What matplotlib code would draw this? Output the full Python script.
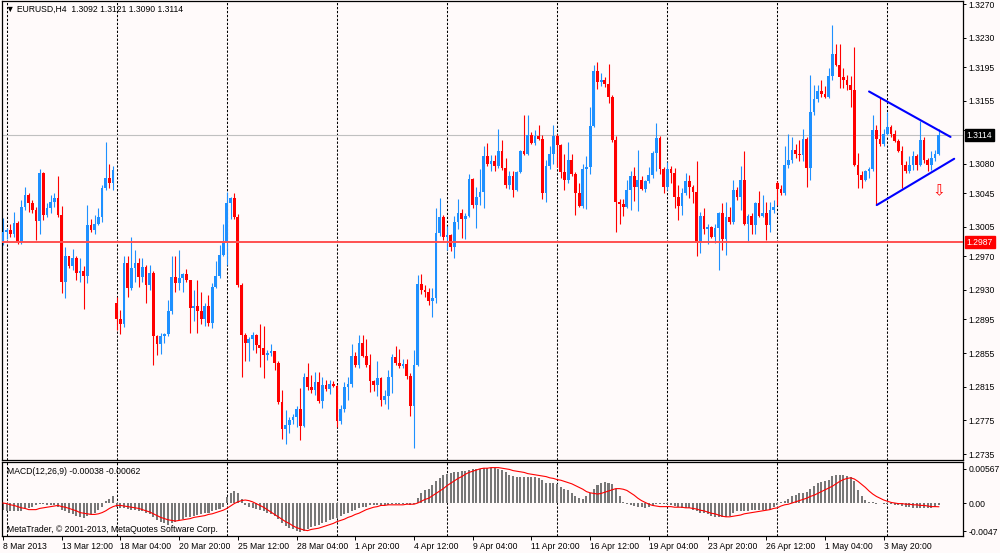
import matplotlib.pyplot as plt
import numpy as np

# EURUSD H4 candles, bar 0 = 8 Mar 2013 20:00
opens = [1.2986, 1.2999, 1.3001, 1.2997, 1.3010, 1.2987, 1.3029, 1.3043, 1.3033, 1.3025,
         1.3012, 1.3069, 1.3019, 1.3027, 1.3035, 1.3039, 1.3019, 1.2940, 1.2970, 1.2958,
         1.2968, 1.2950, 1.2952, 1.2947, 1.3007, 1.3001, 1.3009, 1.3017, 1.3051, 1.3063,
         1.3057, 1.2914, 1.2896, 1.2890, 1.2962, 1.2932, 1.2956, 1.2962, 1.2945, 1.2957,
         1.2936, 1.2950, 1.2875, 1.2866, 1.2875, 1.2878, 1.2905, 1.2945, 1.2938, 1.2944,
         1.2949, 1.2942, 1.2909, 1.2911, 1.2905, 1.2895, 1.2911, 1.2891, 1.2933, 1.2947,
         1.2972, 1.2986, 1.3033, 1.3039, 1.3017, 1.2936, 1.2877, 1.2867, 1.2872, 1.2876,
         1.2865, 1.2861, 1.2853, 1.2855, 1.2857, 1.2843, 1.2797, 1.2765, 1.2769, 1.2775,
         1.2779, 1.2789, 1.2768, 1.2827, 1.2815, 1.2811, 1.2821, 1.2798, 1.2817, 1.2812,
         1.2818, 1.2816, 1.2774, 1.2789, 1.2815, 1.2818, 1.2852, 1.2841, 1.2867, 1.2852,
         1.2841, 1.2822, 1.2817, 1.2825, 1.2799, 1.2804, 1.2827, 1.2850, 1.2843, 1.2840,
         1.2842, 1.2828, 1.2792, 1.2841, 1.2937, 1.2930, 1.2928, 1.2917, 1.2920, 1.2998,
         1.3017, 1.2993, 1.2995, 1.2981, 1.3011, 1.3021, 1.3015, 1.3018, 1.3062, 1.3031,
         1.3040, 1.3047, 1.3089, 1.3080, 1.3083, 1.3077, 1.3095, 1.3075, 1.3055, 1.3066,
         1.3049, 1.3070, 1.3095, 1.3092, 1.3114, 1.3105, 1.3113, 1.3110, 1.3045, 1.3078,
         1.3092, 1.3113, 1.3102, 1.3070, 1.3061, 1.3084, 1.3068, 1.3045, 1.3030, 1.3074,
         1.3076, 1.3125, 1.3190, 1.3177, 1.3180, 1.3175, 1.3160, 1.3108, 1.3035, 1.3032,
         1.3029, 1.3049, 1.3066, 1.3053, 1.3061, 1.3050, 1.3059, 1.3067, 1.3093, 1.3111,
         1.3074, 1.3052, 1.3074, 1.3069, 1.3040, 1.3030, 1.3045, 1.3060, 1.3053, 1.3047,
         1.2986, 1.3018, 1.3002, 1.3005, 1.2993, 1.3004, 1.3022, 1.2991, 1.3017, 1.3011,
         1.3049, 1.3041, 1.3061, 1.3009, 1.3018, 1.3007, 1.3033, 1.3018, 1.3022, 1.3007,
         1.3025, 1.3057, 1.3050, 1.3045, 1.3079, 1.3085, 1.3096, 1.3092, 1.3090, 1.3109,
         1.3075, 1.3142, 1.3157, 1.3167, 1.3163, 1.3160, 1.3184, 1.3211, 1.3198, 1.3183,
         1.3180, 1.3174, 1.3168, 1.3079, 1.3067, 1.3061, 1.3072, 1.3074, 1.3120, 1.3110,
         1.3103, 1.3116, 1.3124, 1.3116, 1.3107, 1.3095, 1.3079, 1.3071, 1.3079, 1.3089,
         1.3079, 1.3108, 1.3085, 1.3079, 1.3087, 1.3092]
highs = [1.3016, 1.3004, 1.3008, 1.3023, 1.3012, 1.3037, 1.3053, 1.3045, 1.3037, 1.3029,
         1.3074, 1.3070, 1.3033, 1.3043, 1.3045, 1.3065, 1.3030, 1.2981, 1.2971, 1.2979,
         1.2970, 1.2968, 1.2958, 1.3031, 1.3014, 1.3019, 1.3027, 1.3055, 1.3106, 1.3080,
         1.3078, 1.2922, 1.2906, 1.2970, 1.2971, 1.2993, 1.2978, 1.2968, 1.2968, 1.2960,
         1.2960, 1.2952, 1.2877, 1.2879, 1.2879, 1.2918, 1.2971, 1.2970, 1.2978, 1.2950,
         1.2955, 1.2942, 1.2930, 1.2942, 1.2928, 1.2914, 1.2924, 1.2938, 1.2964, 1.2984,
         1.3008, 1.3047, 1.3041, 1.3045, 1.3020, 1.2938, 1.2879, 1.2874, 1.2880, 1.2878,
         1.2889, 1.2887, 1.2859, 1.2866, 1.2858, 1.2845, 1.2811, 1.2787, 1.2779, 1.2783,
         1.2792, 1.2813, 1.2831, 1.2843, 1.2829, 1.2833, 1.2833, 1.2826, 1.2823, 1.2823,
         1.2822, 1.2817, 1.2793, 1.2821, 1.2827, 1.2866, 1.2856, 1.2876, 1.2876, 1.2872,
         1.2854, 1.2823, 1.2845, 1.2827, 1.2811, 1.2835, 1.2854, 1.2863, 1.2860, 1.2848,
         1.2848, 1.2831, 1.2859, 1.2948, 1.2949, 1.2936, 1.2932, 1.2932, 1.3028, 1.3039,
         1.3019, 1.3006, 1.2996, 1.3018, 1.3038, 1.3026, 1.3021, 1.3068, 1.3063, 1.3052,
         1.3074, 1.3101, 1.3105, 1.3091, 1.3091, 1.3122, 1.3108, 1.3087, 1.3072, 1.3071,
         1.3072, 1.3097, 1.3138, 1.3138, 1.3118, 1.3120, 1.3126, 1.3114, 1.3084, 1.3101,
         1.3126, 1.3116, 1.3104, 1.3092, 1.3106, 1.3092, 1.3070, 1.3057, 1.3080, 1.3089,
         1.3147, 1.3198, 1.3201, 1.3188, 1.3183, 1.3199, 1.3162, 1.3113, 1.3038, 1.3038,
         1.3061, 1.3072, 1.3076, 1.3096, 1.3065, 1.3061, 1.3076, 1.3095, 1.3129, 1.3113,
         1.3076, 1.3082, 1.3077, 1.3075, 1.3055, 1.3051, 1.3069, 1.3067, 1.3055, 1.3083,
         1.3023, 1.3028, 1.3008, 1.3006, 1.3009, 1.3023, 1.3033, 1.3035, 1.3029, 1.3061,
         1.3053, 1.3077, 1.3095, 1.3020, 1.3021, 1.3035, 1.3048, 1.3043, 1.3035, 1.3035,
         1.3037, 1.3059, 1.3055, 1.3101, 1.3116, 1.3112, 1.3103, 1.3108, 1.3121, 1.3112,
         1.3186, 1.3174, 1.3174, 1.3180, 1.3172, 1.3194, 1.3245, 1.3223, 1.3223, 1.3194,
         1.3186, 1.3184, 1.3219, 1.3093, 1.3071, 1.3073, 1.3076, 1.3138, 1.3126, 1.3160,
         1.3122, 1.3142, 1.3126, 1.3120, 1.3110, 1.3101, 1.3083, 1.3089, 1.3095, 1.3092,
         1.3131, 1.3112, 1.3087, 1.3095, 1.3097, 1.3121]
lows = [1.2983, 1.2991, 1.2993, 1.2993, 1.2985, 1.2985, 1.3025, 1.3023, 1.3021, 1.2989,
        1.2997, 1.3013, 1.3017, 1.3021, 1.3029, 1.3017, 1.2927, 1.2920, 1.2956, 1.2954,
        1.2942, 1.2940, 1.2908, 1.2938, 1.2999, 1.2997, 1.3007, 1.3011, 1.3049, 1.3051,
        1.3049, 1.2882, 1.2878, 1.2886, 1.2922, 1.2930, 1.2940, 1.2934, 1.2940, 1.2914,
        1.2930, 1.2841, 1.2853, 1.2854, 1.2867, 1.2875, 1.2901, 1.2928, 1.2930, 1.2928,
        1.2940, 1.2879, 1.2893, 1.2879, 1.2889, 1.2887, 1.2887, 1.2885, 1.2932, 1.2944,
        1.2970, 1.2960, 1.3015, 1.3015, 1.2934, 1.2827, 1.2845, 1.2845, 1.2859, 1.2855,
        1.2839, 1.2825, 1.2847, 1.2852, 1.2835, 1.2795, 1.2753, 1.2747, 1.2760, 1.2771,
        1.2767, 1.2752, 1.2767, 1.2811, 1.2808, 1.2805, 1.2796, 1.2790, 1.2810, 1.2806,
        1.2815, 1.2767, 1.2771, 1.2785, 1.2799, 1.2815, 1.2839, 1.2837, 1.2850, 1.2839,
        1.2809, 1.2810, 1.2804, 1.2792, 1.2795, 1.2788, 1.2807, 1.2841, 1.2837, 1.2837,
        1.2824, 1.2780, 1.2742, 1.2840, 1.2925, 1.2922, 1.2912, 1.2898, 1.2914, 1.2994,
        1.2990, 1.2978, 1.2976, 1.2968, 1.3002, 1.2992, 1.2991, 1.3017, 1.3027, 1.3004,
        1.3031, 1.3027, 1.3078, 1.3072, 1.3071, 1.3075, 1.3073, 1.3051, 1.3050, 1.3041,
        1.3048, 1.3069, 1.3091, 1.3090, 1.3104, 1.3102, 1.3108, 1.3038, 1.3035, 1.3074,
        1.3080, 1.3076, 1.3063, 1.3049, 1.3057, 1.3065, 1.3019, 1.3029, 1.3028, 1.3026,
        1.3068, 1.3124, 1.3169, 1.3172, 1.3171, 1.3152, 1.3106, 1.2999, 1.3009, 1.3018,
        1.3027, 1.3025, 1.3036, 1.3024, 1.3049, 1.3046, 1.3057, 1.3063, 1.3072, 1.3068,
        1.3045, 1.3049, 1.3057, 1.3027, 1.3013, 1.3019, 1.3043, 1.3039, 1.3033, 1.2970,
        1.2974, 1.2997, 1.2985, 1.2992, 1.2986, 1.2954, 1.2978, 1.2972, 1.3009, 1.3008,
        1.3037, 1.3025, 1.3007, 1.2987, 1.2996, 1.2996, 1.3017, 1.3017, 1.2990, 1.2999,
        1.3021, 1.3031, 1.3043, 1.3043, 1.3075, 1.3081, 1.3087, 1.3083, 1.3083, 1.3052,
        1.3061, 1.3138, 1.3154, 1.3159, 1.3158, 1.3158, 1.3180, 1.3196, 1.3170, 1.3170,
        1.3168, 1.3148, 1.3077, 1.3051, 1.3051, 1.3059, 1.3063, 1.3071, 1.3031, 1.3101,
        1.3101, 1.3114, 1.3112, 1.3106, 1.3094, 1.3051, 1.3069, 1.3069, 1.3073, 1.3073,
        1.3077, 1.3081, 1.3071, 1.3073, 1.3083, 1.3090]
closes = [1.2999, 1.3001, 1.2997, 1.3010, 1.2987, 1.3029, 1.3043, 1.3033, 1.3025, 1.3012,
          1.3069, 1.3019, 1.3027, 1.3035, 1.3039, 1.3019, 1.2940, 1.2970, 1.2958, 1.2968,
          1.2950, 1.2952, 1.2947, 1.3007, 1.3001, 1.3009, 1.3017, 1.3051, 1.3063, 1.3057,
          1.3073, 1.2896, 1.2890, 1.2962, 1.2932, 1.2956, 1.2962, 1.2945, 1.2957, 1.2936,
          1.2950, 1.2875, 1.2866, 1.2875, 1.2878, 1.2905, 1.2945, 1.2938, 1.2944, 1.2949,
          1.2942, 1.2909, 1.2911, 1.2905, 1.2895, 1.2911, 1.2891, 1.2933, 1.2947, 1.2972,
          1.2986, 1.3033, 1.3039, 1.3017, 1.2936, 1.2877, 1.2867, 1.2872, 1.2876, 1.2865,
          1.2861, 1.2853, 1.2855, 1.2857, 1.2843, 1.2797, 1.2765, 1.2769, 1.2775, 1.2779,
          1.2789, 1.2768, 1.2827, 1.2815, 1.2811, 1.2821, 1.2798, 1.2817, 1.2812, 1.2818,
          1.2816, 1.2774, 1.2789, 1.2815, 1.2818, 1.2852, 1.2841, 1.2867, 1.2852, 1.2841,
          1.2822, 1.2817, 1.2825, 1.2799, 1.2804, 1.2827, 1.2850, 1.2843, 1.2840, 1.2842,
          1.2828, 1.2792, 1.2841, 1.2937, 1.2930, 1.2928, 1.2917, 1.2920, 1.2998, 1.3017,
          1.2993, 1.2995, 1.2981, 1.3011, 1.3021, 1.3015, 1.3018, 1.3062, 1.3031, 1.3040,
          1.3047, 1.3089, 1.3080, 1.3083, 1.3077, 1.3095, 1.3075, 1.3055, 1.3066, 1.3049,
          1.3070, 1.3095, 1.3092, 1.3114, 1.3105, 1.3113, 1.3110, 1.3045, 1.3078, 1.3092,
          1.3113, 1.3102, 1.3070, 1.3061, 1.3084, 1.3068, 1.3045, 1.3030, 1.3074, 1.3076,
          1.3125, 1.3190, 1.3177, 1.3180, 1.3175, 1.3160, 1.3108, 1.3035, 1.3032, 1.3029,
          1.3049, 1.3066, 1.3053, 1.3061, 1.3050, 1.3059, 1.3067, 1.3093, 1.3111, 1.3074,
          1.3052, 1.3074, 1.3069, 1.3040, 1.3030, 1.3045, 1.3060, 1.3053, 1.3047, 1.2986,
          1.3018, 1.3002, 1.3005, 1.2993, 1.3004, 1.3022, 1.2991, 1.3017, 1.3011, 1.3049,
          1.3041, 1.3061, 1.3009, 1.3018, 1.3007, 1.3033, 1.3018, 1.3022, 1.3007, 1.3025,
          1.3029, 1.3050, 1.3045, 1.3079, 1.3085, 1.3096, 1.3092, 1.3090, 1.3109, 1.3075,
          1.3142, 1.3157, 1.3167, 1.3163, 1.3160, 1.3184, 1.3211, 1.3198, 1.3183, 1.3180,
          1.3174, 1.3168, 1.3079, 1.3067, 1.3061, 1.3072, 1.3074, 1.3120, 1.3110, 1.3103,
          1.3116, 1.3124, 1.3116, 1.3107, 1.3095, 1.3079, 1.3071, 1.3079, 1.3089, 1.3079,
          1.3108, 1.3085, 1.3079, 1.3087, 1.3092, 1.3114]

# MACD(12,26,9) histogram and signal
macd_hist = [-0.0012, -0.0014, -0.0014, -0.0014, -0.0014, -0.0013, -0.0010, -0.0008, -0.0006, -0.0003,
             -0.0002, -0.0002, -0.0003, -0.0003, -0.0003, -0.0006, -0.0011, -0.0014, -0.0017, -0.0019,
             -0.0021, -0.0023, -0.0025, -0.0022, -0.0019, -0.0016, -0.0011, -0.0006, 0.0004, 0.0007,
             0.0011, -0.0007, -0.0009, -0.0008, -0.0010, -0.0011, -0.0012, -0.0013, -0.0014, -0.0016,
             -0.0018, -0.0023, -0.0029, -0.0032, -0.0034, -0.0036, -0.0034, -0.0032, -0.0029, -0.0027,
             -0.0024, -0.0023, -0.0021, -0.0020, -0.0018, -0.0017, -0.0016, -0.0014, -0.0012, -0.0010,
             -0.0006, 0.0010, 0.0017, 0.0020, 0.0017, 0.0006, -0.0003, -0.0006, -0.0008, -0.0010,
             -0.0012, -0.0014, -0.0017, -0.0018, -0.0021, -0.0027, -0.0033, -0.0038, -0.0042, -0.0044,
             -0.0047, -0.0048, -0.0047, -0.0043, -0.0040, -0.0038, -0.0036, -0.0033, -0.0031, -0.0029,
             -0.0027, -0.0025, -0.0022, -0.0019, -0.0017, -0.0013, -0.0011, -0.0008, -0.0007, -0.0006,
             -0.0004, -0.0004, -0.0003, -0.0003, -0.0004, -0.0003, -0.0002, -0.0001, -0.0001, -0.0002,
             -0.0002, -0.0004, -0.0002, 0.0008, 0.0017, 0.0021, 0.0024, 0.0030, 0.0036, 0.0042,
             0.0046, 0.0048, 0.0050, 0.0051, 0.0052, 0.0053, 0.0054, 0.0055, 0.0056, 0.0057,
             0.0057, 0.0058, 0.0058, 0.0058, 0.0058, 0.0057, 0.0055, 0.0051, 0.0047, 0.0045,
             0.0044, 0.0044, 0.0044, 0.0044, 0.0043, 0.0043, 0.0042, 0.0039, 0.0034, 0.0033,
             0.0033, 0.0032, 0.0027, 0.0023, 0.0021, 0.0016, 0.0012, 0.0008, 0.0007, 0.0011,
             0.0017, 0.0024, 0.0030, 0.0034, 0.0035, 0.0034, 0.0031, 0.0023, 0.0011, 0.0002,
             -0.0002, -0.0003, -0.0005, -0.0006, -0.0007, -0.0008, -0.0006, -0.0003, -0.0002, -0.0002,
             -0.0002, -0.0002, -0.0003, -0.0005, -0.0007, -0.0009, -0.0009, -0.0009, -0.0011, -0.0013,
             -0.0016, -0.0017, -0.0019, -0.0021, -0.0023, -0.0024, -0.0024, -0.0023, -0.0021, -0.0017,
             -0.0014, -0.0013, -0.0013, -0.0013, -0.0012, -0.0012, -0.0012, -0.0012, -0.0011, -0.0011,
             -0.0007, -0.0003, 0.0001, 0.0004, 0.0007, 0.0011, 0.0014, 0.0016, 0.0017, 0.0019,
             0.0023, 0.0028, 0.0033, 0.0035, 0.0037, 0.0039, 0.0045, 0.0047, 0.0047, 0.0046,
             0.0045, 0.0043, 0.0036, 0.0022, 0.0011, 0.0005, 0.0002, 0.0001, -0.0001, 0.0000,
             -0.0001, -0.0001, -0.0002, -0.0003, -0.0004, -0.0005, -0.0006, -0.0007, -0.0008, -0.0009,
             -0.0009, -0.0009, -0.0009, -0.0009, -0.0007, -0.00038]
macd_signal = [0.0000, -0.0001, -0.0003, -0.0004, -0.0006, -0.0008, -0.0009, -0.0011, -0.0011, -0.0011,
               -0.0009, -0.0008, -0.0007, -0.0006, -0.0005, -0.0004, -0.0006, -0.0007, -0.0009, -0.0011,
               -0.0013, -0.0016, -0.0017, -0.0018, -0.0019, -0.0019, -0.0018, -0.0016, -0.0013, -0.0009,
               -0.0006, -0.0004, -0.0004, -0.0005, -0.0006, -0.0007, -0.0008, -0.0009, -0.0011, -0.0013,
               -0.0015, -0.0018, -0.0021, -0.0024, -0.0026, -0.0028, -0.0029, -0.0030, -0.0029, -0.0028,
               -0.0027, -0.0026, -0.0024, -0.0023, -0.0022, -0.0021, -0.0019, -0.0018, -0.0016, -0.0014,
               -0.0012, -0.0009, -0.0005, -0.0001, 0.0002, 0.0004, 0.0005, 0.0004, 0.0002, -0.0001,
               -0.0004, -0.0007, -0.0011, -0.0015, -0.0019, -0.0023, -0.0027, -0.0031, -0.0034, -0.0038,
               -0.0041, -0.0043, -0.0045, -0.0046, -0.0044, -0.0043, -0.0042, -0.0040, -0.0038, -0.0036,
               -0.0034, -0.0031, -0.0029, -0.0027, -0.0024, -0.0022, -0.0019, -0.0017, -0.0014, -0.0011,
               -0.0009, -0.0007, -0.0006, -0.0004, -0.0004, -0.0003, -0.0003, -0.0003, -0.0003, -0.0003,
               -0.0002, -0.0002, -0.0002, 0.0000, 0.0003, 0.0006, 0.0008, 0.0012, 0.0016, 0.0020,
               0.0024, 0.0029, 0.0033, 0.0037, 0.0041, 0.0044, 0.0048, 0.0051, 0.0053, 0.0055,
               0.0057, 0.0058, 0.0058, 0.0059, 0.0059, 0.0059, 0.0058, 0.0057, 0.0056, 0.0054,
               0.0053, 0.0052, 0.0051, 0.0049, 0.0048, 0.0047, 0.0046, 0.0045, 0.0044, 0.0042,
               0.0041, 0.0039, 0.0038, 0.0036, 0.0034, 0.0032, 0.0029, 0.0026, 0.0023, 0.0019,
               0.0017, 0.0016, 0.0015, 0.0016, 0.0018, 0.0020, 0.0022, 0.0024, 0.0024, 0.0023,
               0.0021, 0.0017, 0.0013, 0.0008, 0.0004, 0.0001, -0.0002, -0.0004, -0.0005, -0.0006,
               -0.0006, -0.0006, -0.0006, -0.0007, -0.0007, -0.0007, -0.0008, -0.0008, -0.0009, -0.0010,
               -0.0012, -0.0013, -0.0015, -0.0017, -0.0018, -0.0020, -0.0022, -0.0023, -0.0023, -0.0022,
               -0.0021, -0.0020, -0.0018, -0.0017, -0.0016, -0.0015, -0.0014, -0.0013, -0.0012, -0.0011,
               -0.0009, -0.0008, -0.0005, -0.0003, -0.0002, 0.0000, 0.0002, 0.0004, 0.0006, 0.0008,
               0.0011, 0.0013, 0.0016, 0.0019, 0.0022, 0.0025, 0.0028, 0.0032, 0.0036, 0.0039,
               0.0041, 0.0042, 0.0040, 0.0036, 0.0031, 0.0026, 0.0020, 0.0015, 0.0011, 0.0008,
               0.0005, 0.0003, 0.0001, 0.0000, -0.0001, -0.0001, -0.0002, -0.0002, -0.0003, -0.0003,
               -0.0004, -0.0004, -0.0005, -0.0006, -0.0006, -0.00062]

# 1.3120 sits under the current-price box, so its label stays empty
price_ticks = [1.3270, 1.3230, 1.3195, 1.3155, 1.3120, 1.3080, 1.3045, 1.3005,
               1.2970, 1.2930, 1.2895, 1.2855, 1.2815, 1.2775, 1.2735]
hidden_price_ticks = [1.3120]
time_tick_bars = [0, 16, 32, 48, 64, 80, 96, 112, 128, 144, 160, 176, 192, 208, 224, 240]
time_tick_labels = ['8 Mar 2013', '13 Mar 12:00', '18 Mar 04:00', '20 Mar 20:00',
                    '25 Mar 12:00', '28 Mar 04:00', '1 Apr 20:00', '4 Apr 12:00',
                    '9 Apr 04:00', '11 Apr 20:00', '16 Apr 12:00', '19 Apr 04:00',
                    '23 Apr 20:00', '26 Apr 12:00', '1 May 04:00', '3 May 20:00']
week_start_bars = [1, 31, 61, 91, 121, 151, 181, 211, 241]
macd_ticks = [0.00567, 0.0, -0.0047]
macd_tick_labels = ['0.00567', '0.00', '-0.0047']

support_level = 1.2987
bid_price = 1.3114
# hand-drawn triangle: (bar, price) end points
tri_upper_bars, tri_upper_prices = [236.0, 258.2], [1.3166, 1.3112]
tri_lower_bars, tri_lower_prices = [238.1, 259.2], [1.3031, 1.3086]
arrow_bar, arrow_price = 255.0, 1.3048

plt.rcParams['font.family'] = ['Liberation Sans', 'DejaVu Sans']
BG = '#fffafa'
BULL = '#1e90ff'
BEAR = '#ff0000'
FS = 6.2

o = np.array(opens)
h = np.array(highs)
l = np.array(lows)
c = np.array(closes)
x = np.arange(len(o))
colors = np.where(c >= o, BULL, BEAR)

fig = plt.figure(figsize=(10, 5.53), dpi=100, facecolor=BG)
ax = fig.add_axes([0.002, 0.1682, 0.961, 0.8300], facecolor=BG)
ax2 = fig.add_axes([0.002, 0.0307, 0.961, 0.1339], facecolor=BG)

# candles
ax.vlines(x, l, h, colors=colors, lw=0.8, zorder=2)
ax.bar(x, np.maximum(np.abs(c - o), 0.00008), bottom=np.minimum(o, c),
       width=0.75, color=colors, linewidth=0, zorder=3)

ax.axhline(bid_price, color='#c0c0c0', lw=0.8, zorder=1)
ax.axhline(support_level, color='#ff5050', lw=1.4, zorder=4)
ax.plot(tri_upper_bars, tri_upper_prices, color='#0000ff', lw=1.5, zorder=5,
        solid_capstyle='round')
ax.plot(tri_lower_bars, tri_lower_prices, color='#0000ff', lw=1.5, zorder=5,
        solid_capstyle='round')
ax.text(arrow_bar, arrow_price, '\u21e9', color='red', fontsize=11,
        family='DejaVu Sans', ha='center', va='center', zorder=6)

# macd
ax2.bar(x, macd_hist, width=0.55, color='#777777', linewidth=0, zorder=2)
ax2.plot(x, macd_signal, color='red', lw=0.8, zorder=3)

for a in (ax, ax2):
    a.set_xlim(-0.27, 261.6)
    for b in week_start_bars:
        a.axvline(b, color='black', lw=0.75, ls=(0, (2.2, 1.6)), zorder=0.5)
    for s in a.spines.values():
        s.set_linewidth(0.9)
        s.set_color('black')
    a.yaxis.tick_right()
    a.tick_params(axis='y', direction='out', length=2.5, width=0.7,
                  pad=1.5, labelsize=FS)

ax.set_ylim(1.27279, 1.32736)
ax.set_yticks(price_ticks)
ax.set_yticklabels(['' if p in hidden_price_ticks else f'{p:.4f}'
                    for p in price_ticks])
ax.tick_params(axis='x', bottom=False, labelbottom=False)

ax2.set_ylim(-0.0055, 0.00684)
ax2.set_yticks(macd_ticks)
ax2.set_yticklabels(macd_tick_labels)
ax2.set_xticks(time_tick_bars)
ax2.set_xticklabels(time_tick_labels, ha='left')
ax2.tick_params(axis='x', direction='out', length=3, width=0.7, pad=1.5,
                labelsize=FS)

# price boxes on the scale
trans = ax.get_yaxis_transform()
ax.text(1.004, bid_price, f'{bid_price:.4f}', transform=trans, color='white',
        fontsize=FS, va='center', ha='left', clip_on=False, zorder=10,
        bbox=dict(boxstyle='square,pad=0.2', fc='black', ec='black'))
ax.text(1.004, support_level, f'{support_level:.4f}', transform=trans,
        color='white', fontsize=FS, va='center', ha='left', clip_on=False,
        zorder=10, bbox=dict(boxstyle='square,pad=0.2', fc='#ff0000', ec='#ff0000'))

fig.text(0.006, 1 - 9 / 553,
         '\u25bc EURUSD,H4  1.3092 1.3121 1.3090 1.3114',
         fontsize=FS, va='center', ha='left')
fig.text(0.007, 1 - 471 / 553, 'MACD(12,26,9) -0.00038 -0.00062',
         fontsize=FS, va='center', ha='left')
fig.text(0.007, 1 - 530 / 553,
         'MetaTrader, \u00a9 2001-2013, MetaQuotes Software Corp.',
         fontsize=FS, va='center', ha='left')

fig.savefig('out.png', dpi=100, facecolor=BG)
